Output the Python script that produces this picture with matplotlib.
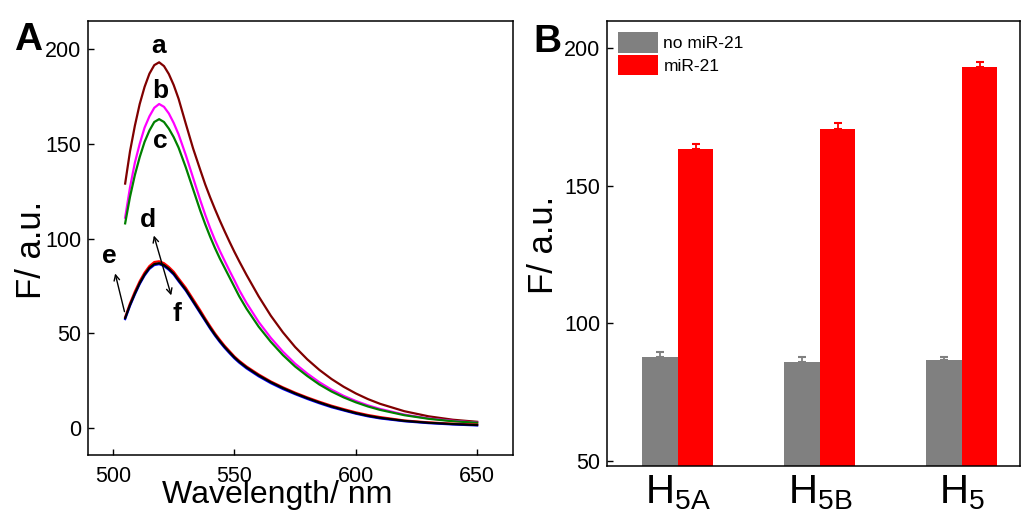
import numpy as np
import matplotlib
matplotlib.use('Agg')
import matplotlib.pyplot as plt

plt.rcParams['font.family'] = ['Liberation Sans', 'DejaVu Sans']
plt.rcParams['mathtext.fontset'] = 'custom'
plt.rcParams['mathtext.rm'] = 'Liberation Sans'

# Espectros de fluorescencia (panel A)
wl = [505, 507, 509, 511, 513, 515, 517, 519, 521, 523, 525, 527, 530, 533, 536,
      538, 540, 542, 544, 546, 548, 550, 552, 555, 560, 565, 570, 575, 580, 585,
      590, 595, 600, 605, 610, 620, 630, 640, 650]
curve_a = [129, 146, 159.5, 171, 180, 187, 191.5, 193, 191, 186.8, 181, 173.8, 160.5, 147.5, 136,
           128.5, 121.8, 115.5, 109.5, 103.8, 98.3, 93, 88, 80.8, 69.5, 59.3, 50.5, 42.8, 36.3, 30.7,
           25.9, 21.8, 18.3, 15.3, 12.8, 8.9, 6.2, 4.4, 3.3]
curve_b = [111, 127, 140, 150, 158.5, 164.5, 169, 171, 169.5, 166, 161, 155, 144, 132, 120,
           112.5, 105.5, 99.2, 93.5, 88.2, 83, 78, 72.8, 66, 56, 47.6, 40.3, 34, 28.8, 24.2,
           20.3, 17, 14.3, 12, 10.1, 7.1, 5.1, 3.8, 2.9]
curve_c = [108, 122, 133.5, 143, 151, 157, 161.5, 163, 161.5, 158, 153.5, 148, 137.5, 126, 114.5,
           107.5, 101, 95, 89.5, 84.5, 79.5, 74.5, 69.5, 63, 53.5, 45.5, 38.5, 32.5, 27.5, 23,
           19.3, 16.2, 13.6, 11.4, 9.6, 6.8, 4.9, 3.6, 2.8]
curve_d = [58.5, 65.8, 72, 77.5, 82, 85.5, 87.6, 88, 87, 85, 82.5, 79, 74, 68, 62,
           57.8, 53.8, 50, 46.6, 43.4, 40.6, 37.8, 35.5, 32.5, 28.3, 24.6, 21.5, 18.7, 16.2, 13.9,
           11.8, 10, 8.3, 6.9, 5.8, 4.0, 3.0, 2.3, 1.8]
curve_e = [57.5, 64.5, 70.5, 76, 80.5, 84, 86, 86.5, 85.5, 83.5, 81, 77.5, 72.5, 66.5, 60.5,
           56.5, 52.5, 48.8, 45.4, 42.3, 39.5, 36.8, 34.5, 31.5, 27.3, 23.7, 20.6, 17.9, 15.4, 13.1,
           11, 9.3, 7.6, 6.2, 5.1, 3.6, 2.6, 1.9, 1.4]
curve_f = [58, 65, 71, 76.5, 81, 84.5, 86.5, 87, 86, 84, 81.5, 78, 73, 67, 61,
           57, 53, 49.3, 45.9, 42.8, 40, 37.3, 35, 32, 27.8, 24.2, 21.1, 18.3, 15.8, 13.5,
           11.4, 9.6, 7.9, 6.5, 5.4, 3.8, 2.8, 2.1, 1.6]

# Barras (panel B)
groups = ['H$_{\\mathregular{5A}}$', 'H$_{\\mathregular{5B}}$', 'H$_{\\mathregular{5}}$']
no_mir = [87.8, 86.1, 86.6]
no_mir_err = [1.9, 1.6, 1.2]
mir = [163.4, 170.8, 193.1]
mir_err = [1.8, 2.0, 1.8]

fig = plt.figure(figsize=(10.21, 5.13), dpi=100)

# ---------------- Panel A ----------------
axA = fig.add_axes([0.0862, 0.1131, 0.4163, 0.846])
axA.plot(wl, curve_a, color='#800000', lw=1.6)
axA.plot(wl, curve_b, color='#ff00ff', lw=1.6)
axA.plot(wl, curve_c, color='#008000', lw=1.6)
axA.plot(wl, curve_d, color='#ff0000', lw=1.6)
axA.plot(wl, curve_e, color='#0000ff', lw=1.6)
axA.plot(wl, curve_f, color='black', lw=1.6)
axA.set_xlim(489.7, 664.8)
axA.set_ylim(-14.2, 214.8)
axA.set_xticks([500, 550, 600, 650])
axA.set_yticks([0, 50, 100, 150, 200])
axA.tick_params(direction='in', length=4, width=1, labelsize=15.5, pad=5,
                top=False, right=False)
axA.tick_params(axis='x', pad=8)
axA.set_xlabel('Wavelength/ nm', fontsize=23)
axA.set_ylabel('F/ a.u.', fontsize=25)
axA.xaxis.set_label_coords(0.446, -0.058)
axA.yaxis.set_label_coords(-0.093, 0.472)
for s in axA.spines.values():
    s.set_linewidth(1.1)

lab = dict(fontsize=19, fontweight='bold', ha='center', va='center')
axA.text(518.6, 201.6, 'a', **lab)
axA.text(519.4, 177.8, 'b', **lab)
axA.text(519.6, 151.5, 'c', **lab)
axA.text(514.2, 110, 'd', **lab)
axA.text(498.4, 91, 'e', **lab)
axA.text(526.2, 60, 'f', **lab)
axA.annotate('', xy=(500.6, 83), xytext=(505, 60),
             arrowprops=dict(arrowstyle='->', color='black', lw=1.0))
axA.annotate('', xy=(516.5, 103), xytext=(524.3, 68.6),
             arrowprops=dict(arrowstyle='<->', color='black', lw=1.0))

fig.text(0.028, 0.922, 'A', fontsize=28, fontweight='bold', ha='center', va='center')

# ---------------- Panel B ----------------
axB = fig.add_axes([0.5945, 0.0916, 0.4045, 0.8674])
x = np.arange(1, len(groups) + 1)
w = 0.25
axB.bar(x - w / 2, no_mir, w, color='#808080', label='no miR-21',
        yerr=[[0] * 3, no_mir_err], ecolor='#808080', capsize=3,
        error_kw=dict(elinewidth=1.3, capthick=1.5))
axB.bar(x + w / 2, mir, w, color='#ff0000', label='miR-21',
        yerr=[[0] * 3, mir_err], ecolor='#ff0000', capsize=3,
        error_kw=dict(elinewidth=1.3, capthick=1.5))
axB.set_xlim(0.501, 3.41)
axB.set_ylim(48.2, 209.9)
axB.set_xticks(x)
axB.set_xticklabels(groups, fontsize=29)
axB.set_yticks([50, 100, 150, 200])
axB.tick_params(axis='y', direction='in', length=4, width=1, labelsize=15.5, pad=5)
axB.tick_params(axis='x', length=0, pad=5)
axB.set_ylabel('F/ a.u.', fontsize=25)
axB.yaxis.set_label_coords(-0.114, 0.497)
for s in axB.spines.values():
    s.set_linewidth(1.1)
axB.legend(loc='upper left', frameon=False, fontsize=12.5, handlelength=2.3,
           handleheight=1.45, handletextpad=0.3, labelspacing=0.1,
           borderaxespad=0.3, borderpad=0.35)

fig.text(0.536, 0.918, 'B', fontsize=28, fontweight='bold', ha='center', va='center')

fig.savefig('out.png', dpi=100)
